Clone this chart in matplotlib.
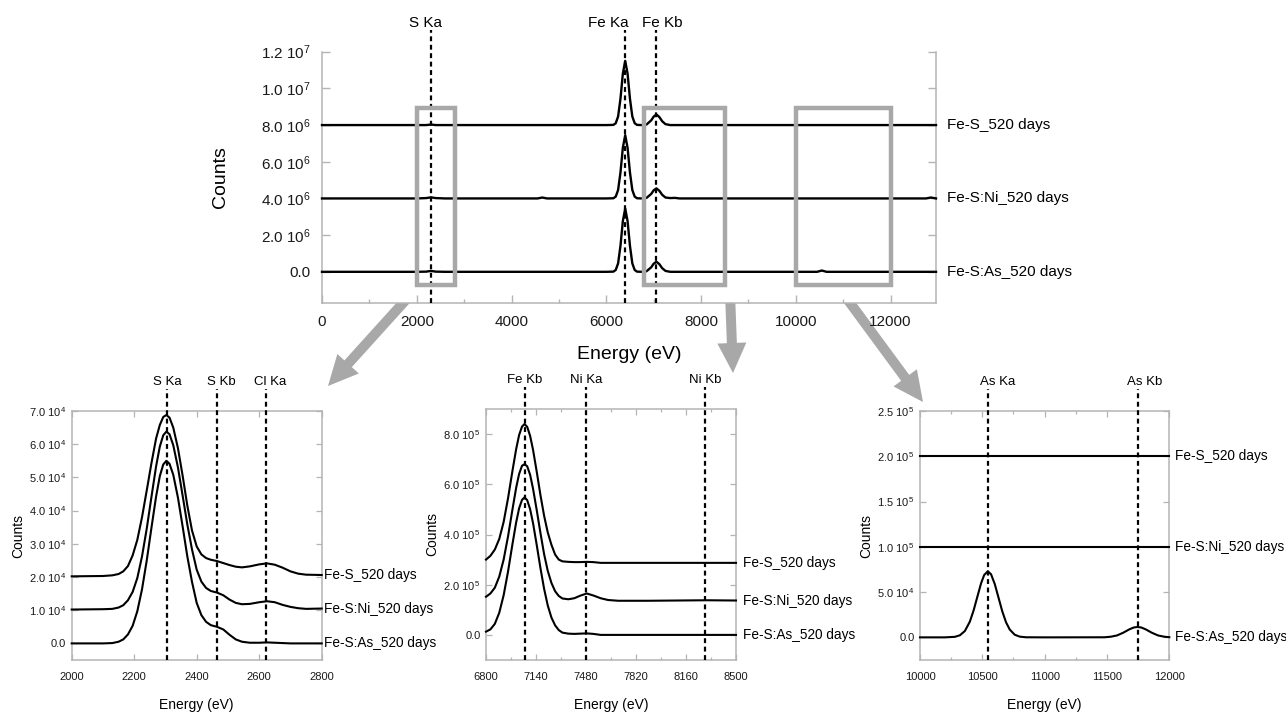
import numpy as np
import matplotlib
matplotlib.use('Agg')
from matplotlib import pyplot as plt
from matplotlib.patches import Rectangle, FancyArrow
from matplotlib.ticker import MultipleLocator, FuncFormatter, FixedLocator

plt.rcParams['font.family'] = ['Liberation Sans', 'DejaVu Sans']
plt.rcParams['mathtext.fontset'] = 'custom'
plt.rcParams['mathtext.rm'] = 'Liberation Sans'
plt.rcParams['mathtext.default'] = 'regular'

# ================================================
# DATA
# ================================================

series_names = ['Fe-S_520 days', 'Fe-S:Ni_520 days', 'Fe-S:As_520 days']

# overview spectrum, counts in units of 1e6
main_energy = [0, 1000, 2000, 2200, 2300, 2400, 2600,
               4000, 4550, 4650, 4750,
               6000, 6150, 6200, 6250, 6300, 6350, 6400, 6450, 6500, 6550, 6600, 6650,
               6750, 6850, 6950, 7000, 7058, 7120, 7180, 7250, 7350,
               7450, 7550, 8000,
               10000, 10450, 10550, 10650,
               12000, 12750, 12850, 12960]
main_fes = [8.0, 8.0, 8.0, 8.0, 8.03, 8.0, 8.0,
            8.0, 8.0, 8.0, 8.0,
            8.0, 8.01, 8.10, 8.47, 9.44, 10.80, 11.50, 10.80, 9.44, 8.47, 8.10, 8.01,
            8.0, 8.03, 8.26, 8.46, 8.58, 8.44, 8.21, 8.05, 8.0,
            8.0, 8.0, 8.0,
            8.0, 8.0, 8.0, 8.0,
            8.0, 8.0, 8.0, 8.0]
main_ni = [4.0, 4.0, 4.0, 4.02, 4.06, 4.02, 4.0,
           4.0, 4.0, 4.05, 4.0,
           4.0, 4.01, 4.10, 4.46, 5.42, 6.76, 7.45, 6.76, 5.42, 4.46, 4.10, 4.01,
           4.0, 4.03, 4.25, 4.44, 4.55, 4.42, 4.20, 4.05, 4.02,
           4.03, 4.0, 4.0,
           4.0, 4.0, 4.0, 4.0,
           4.0, 4.0, 4.05, 4.0]
main_as = [0.0, 0.0, 0.0, 0.01, 0.05, 0.01, 0.0,
           0.0, 0.0, 0.0, 0.0,
           0.0, 0.01, 0.10, 0.46, 1.42, 2.76, 3.45, 2.76, 1.42, 0.46, 0.10, 0.01,
           0.0, 0.03, 0.25, 0.44, 0.55, 0.42, 0.20, 0.05, 0.0,
           0.0, 0.0, 0.0,
           0.0, 0.0, 0.07, 0.0,
           0.0, 0.0, 0.0, 0.0]
main_lines = [2307, 6400, 7058]
main_line_labels = ['S Ka', 'Fe Ka', 'Fe Kb']
# zoom boxes on the overview: (x0, x1, y0, y1)
zoom_boxes = [(2000, 2800, -0.73e6, 8.93e6),
              (6800, 8500, -0.73e6, 8.93e6),
              (10000, 12000, -0.73e6, 8.93e6)]

# S / Cl region, counts in units of 1e4
s_energy = [2000, 2100, 2130, 2150, 2165, 2180, 2195, 2210, 2225, 2240,
            2255, 2270, 2282, 2293, 2303, 2313, 2325, 2340, 2355, 2370,
            2385, 2400, 2415, 2430, 2445, 2465, 2485, 2505, 2525, 2545,
            2570, 2600, 2625, 2650, 2675, 2700, 2725, 2750, 2800]
s_fes = [2.02, 2.03, 2.05, 2.09, 2.17, 2.33, 2.65, 3.12, 3.80, 4.60,
         5.42, 6.17, 6.58, 6.82, 6.88, 6.80, 6.50, 5.88, 5.05, 4.15,
         3.40, 2.92, 2.68, 2.57, 2.52, 2.48, 2.42, 2.36, 2.31, 2.29,
         2.32, 2.38, 2.41, 2.37, 2.28, 2.17, 2.10, 2.07, 2.06]
s_ni = [1.02, 1.03, 1.04, 1.08, 1.15, 1.30, 1.55, 1.97, 2.62, 3.45,
        4.40, 5.33, 5.93, 6.27, 6.38, 6.30, 5.97, 5.30, 4.45, 3.58,
        2.83, 2.22, 1.86, 1.67, 1.58, 1.53, 1.45, 1.32, 1.22, 1.18,
        1.19, 1.24, 1.27, 1.24, 1.16, 1.10, 1.06, 1.04, 1.05]
s_as = [0.0, 0.0, 0.01, 0.05, 0.12, 0.27, 0.53, 0.97, 1.63, 2.49,
        3.47, 4.42, 5.04, 5.39, 5.50, 5.41, 5.08, 4.39, 3.52, 2.62,
        1.85, 1.22, 0.85, 0.65, 0.55, 0.50, 0.42, 0.26, 0.12, 0.05,
        0.02, 0.02, 0.03, 0.02, 0.01, 0.0, 0.0, 0.0, 0.0]
s_lines = [2305, 2465, 2622]
s_line_labels = ['S Ka', 'S Kb', 'Cl Ka']

# Fe Kb / Ni region, counts in units of 1e5
fe_energy = [6800, 6830, 6860, 6890, 6920, 6950, 6980, 7005, 7025, 7045,
             7062, 7080, 7100, 7120, 7145, 7170, 7195, 7220, 7245, 7270,
             7295, 7320, 7360, 7400, 7440, 7485, 7530, 7580, 7630, 7700,
             7900, 8100, 8300, 8500]
fe_fes = [3.00, 3.15, 3.40, 3.82, 4.50, 5.45, 6.54, 7.40, 7.96, 8.30,
          8.40, 8.29, 7.93, 7.37, 6.50, 5.58, 4.75, 4.08, 3.59, 3.20,
          3.00, 2.93, 2.91, 2.90, 2.90, 2.91, 2.90, 2.87, 2.87, 2.87,
          2.87, 2.87, 2.87, 2.87]
fe_ni = [1.52, 1.65, 1.88, 2.32, 3.00, 3.93, 5.00, 5.86, 6.41, 6.74,
         6.80, 6.72, 6.38, 5.82, 4.97, 4.07, 3.22, 2.55, 2.07, 1.74,
         1.55, 1.45, 1.42, 1.46, 1.56, 1.65, 1.57, 1.46, 1.39, 1.36,
         1.36, 1.37, 1.38, 1.37]
fe_as = [0.13, 0.22, 0.44, 0.88, 1.58, 2.53, 3.62, 4.48, 5.04, 5.38,
         5.48, 5.37, 5.01, 4.45, 3.58, 2.67, 1.84, 1.17, 0.69, 0.38,
         0.19, 0.09, 0.05, 0.04, 0.05, 0.06, 0.04, 0.0, 0.0, 0.0,
         0.0, 0.0, 0.0, 0.0]
fe_lines = [7062, 7482, 8288]
fe_line_labels = ['Fe Kb', 'Ni Ka', 'Ni Kb']

# As region, counts in units of 1e4
as_energy = [10000, 10200, 10280, 10320, 10360, 10400, 10430, 10460, 10490, 10515,
             10544, 10570, 10600, 10630, 10660, 10690, 10720, 10760, 10800, 10850,
             11000, 11480, 11530, 11580, 11630, 11680, 11715, 11745, 11775, 11810,
             11860, 11910, 11960, 12000]
as_fes = [20.0] * len(as_energy)   # flat
as_ni = [10.0] * len(as_energy)    # flat
as_as = [0.0, 0.0, 0.06, 0.23, 0.70, 1.74, 2.97, 4.48, 5.97, 6.89,
         7.30, 6.97, 5.88, 4.38, 2.88, 1.67, 0.86, 0.29, 0.08, 0.01,
         0.0, 0.01, 0.07, 0.21, 0.51, 0.89, 1.09, 1.15, 1.09, 0.89,
         0.51, 0.21, 0.07, 0.02]
as_lines = [10544, 11745]
as_line_labels = ['As Ka', 'As Kb']

# ================================================
# STYLE
# ================================================

W, H = 1286, 713
SPINE = '#b4b4b4'
BOX = '#a8a8a8'


def sci_fmt(v, pos):
    if abs(v) < 1e-9:
        return '0.0'
    e = int(np.floor(np.log10(abs(v)) + 1e-9))
    m = v / 10 ** e
    return '%.1f $10^{%d}$' % (m, e)


def px_axes(left, top, right, bottom):
    return [left / W, 1 - bottom / H, (right - left) / W, (bottom - top) / H]


def style_axes(ax, tick_size, top_spine=True):
    for side in ['left', 'right', 'bottom', 'top']:
        ax.spines[side].set_color(SPINE)
        ax.spines[side].set_linewidth(1.1)
    ax.spines['top'].set_visible(top_spine)
    ax.tick_params(which='both', direction='in', color=SPINE, right=True,
                   top=top_spine, labelsize=tick_size, labelcolor='#1a1a1a')
    ax.yaxis.set_major_formatter(FuncFormatter(sci_fmt))


def draw_lines(ax, energies, labels, fontsize, offsets):
    tr = ax.get_xaxis_transform()
    for e, lab, off in zip(energies, labels, offsets):
        ax.plot([e, e], [0, 1.087], transform=tr, clip_on=False, color='k',
                lw=1.6, ls=(0, (2.2, 1.6)), zorder=4)
        ax.annotate(lab, xy=(e, 1.115), xycoords=tr, xytext=(off, 0),
                    textcoords='offset points', ha='center', va='center',
                    fontsize=fontsize, annotation_clip=False)


def draw_series(ax, x, ys, scale, pad, fontsize, lw):
    for y, name in zip(ys, series_names):
        yy = np.array(y) * scale
        ax.plot(x, yy, color='k', lw=lw, zorder=3, clip_on=False,
                solid_joinstyle='round')
        ax.annotate(name, xy=(1, yy[-1]), xycoords=('axes fraction', 'data'),
                    xytext=(pad, 0), textcoords='offset points', ha='left',
                    va='center', fontsize=fontsize, annotation_clip=False)


fig = plt.figure(figsize=(W / 100, H / 100), dpi=100)

# ---------------- overview ----------------
ax0 = fig.add_axes(px_axes(322, 51.7, 936, 303))
draw_series(ax0, main_energy, [main_fes, main_ni, main_as], 1e6, 8, 11, 1.7)
ax0.set_xlim(0, 12960)
ax0.set_ylim(-1.7e6, 1.2e7)
style_axes(ax0, 11, top_spine=False)
ax0.xaxis.set_major_locator(MultipleLocator(2000))
ax0.xaxis.set_minor_locator(MultipleLocator(1000))
ax0.yaxis.set_major_locator(FixedLocator([0, 2e6, 4e6, 6e6, 8e6, 1e7, 1.2e7]))
ax0.tick_params(which='major', length=5.5, width=1)
ax0.tick_params(which='minor', length=3, width=1)
ax0.tick_params(axis='x', pad=9)
ax0.tick_params(axis='y', pad=8)
ax0.set_xlabel('Energy (eV)', fontsize=14, labelpad=12)
ax0.set_ylabel('Counts', fontsize=14, labelpad=23)
draw_lines(ax0, main_lines, main_line_labels, 11, [-4, -12, 4])
for x0, x1, y0, y1 in zoom_boxes:
    ax0.add_patch(Rectangle((x0, y0), x1 - x0, y1 - y0, fill=False,
                            edgecolor=BOX, lw=3.2, zorder=5, clip_on=False))

# ---------------- S / Cl ----------------
ax1 = fig.add_axes(px_axes(71.7, 411, 321.7, 660))
draw_series(ax1, s_energy, [s_fes, s_ni, s_as], 1e4, 1.5, 9.8, 1.5)
ax1.set_xlim(2000, 2800)
ax1.set_ylim(-5000, 70000)
style_axes(ax1, 8)
ax1.xaxis.set_major_locator(MultipleLocator(200))
ax1.yaxis.set_major_locator(MultipleLocator(10000))
draw_lines(ax1, s_lines, s_line_labels, 9.5, [0, 3, 3])

# ---------------- Fe Kb / Ni ----------------
ax2 = fig.add_axes(px_axes(486, 409, 736, 660))
draw_series(ax2, fe_energy, [fe_fes, fe_ni, fe_as], 1e5, 5, 9.8, 1.5)
ax2.set_xlim(6800, 8500)
ax2.set_ylim(-1e5, 9e5)
style_axes(ax2, 8)
ax2.xaxis.set_major_locator(MultipleLocator(340))
ax2.xaxis.set_minor_locator(MultipleLocator(170))
ax2.yaxis.set_major_locator(MultipleLocator(2e5))
draw_lines(ax2, fe_lines, fe_line_labels, 9.5, [0, 0, 0])

# ---------------- As ----------------
ax3 = fig.add_axes(px_axes(920, 411, 1169.3, 660))
draw_series(ax3, as_energy, [as_fes, as_ni, as_as], 1e4, 4, 9.8, 1.5)
ax3.set_xlim(10000, 12000)
ax3.set_ylim(-2.5e4, 2.5e5)
style_axes(ax3, 8)
ax3.xaxis.set_major_locator(MultipleLocator(500))
ax3.xaxis.set_minor_locator(MultipleLocator(250))
ax3.yaxis.set_major_locator(MultipleLocator(5e4))
draw_lines(ax3, as_lines, as_line_labels, 9.5, [7, 5])

for ax in (ax1, ax2, ax3):
    ax.tick_params(which='major', length=4, width=0.9)
    ax.tick_params(which='minor', length=2.5, width=0.9)
    ax.tick_params(axis='x', pad=9)
    ax.tick_params(axis='y', pad=4)
    ax.set_xlabel('Energy (eV)', fontsize=10, labelpad=11)
    ax.set_ylabel('Counts', fontsize=10, labelpad=3)

# ---------------- arrows (pixel space) ----------------
ov = fig.add_axes([0, 0, 1, 1], zorder=-1)
ov.set_xlim(0, W)
ov.set_ylim(H, 0)
ov.axis('off')
arrows = [((413, 292), (328, 386)),
          ((730, 293), (733, 373)),
          ((842, 292), (923, 402))]
for (xa, ya), (xb, yb) in arrows:
    ov.add_patch(FancyArrow(xa, ya, xb - xa, yb - ya, width=10, head_width=29,
                            head_length=30, length_includes_head=True,
                            color=BOX, lw=0))

fig.savefig('out.png', dpi=100)
plt.close(fig)
